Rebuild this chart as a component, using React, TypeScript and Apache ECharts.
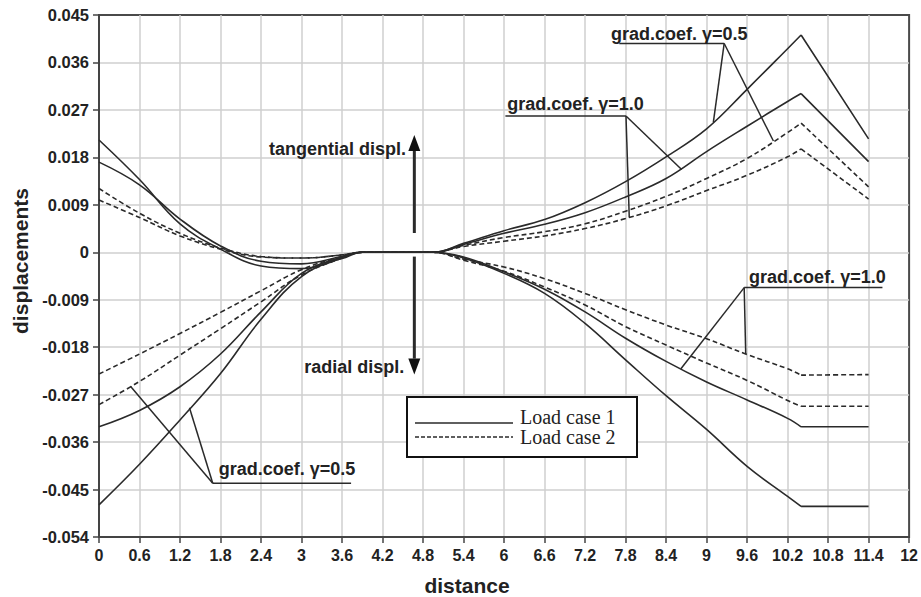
import React, { useEffect, useRef } from 'react';
import * as echarts from 'echarts';

// Distance along the section (shared by every curve)
const distance = [0, 0.6, 1.2, 1.8, 2.4, 3.0, 3.6, 3.9, 4.95, 5.4, 6.0, 6.6, 7.2, 7.8, 8.4, 9.0, 9.6, 10.2, 10.4, 11.4];

// Tangential displacements
const tanCase1G05 = [0.0213, 0.0138, 0.0054, 0.0006, -0.0026, -0.0031, -0.0012, 0, 0, 0.0017, 0.0041, 0.0062, 0.0094, 0.0134, 0.0181, 0.0234, 0.0309, 0.0386, 0.0412, 0.0215];
const tanCase1G10 = [0.0171, 0.0128, 0.0063, 0.0012, -0.0017, -0.0022, -0.0008, 0, 0, 0.0015, 0.0036, 0.0053, 0.0075, 0.0105, 0.0140, 0.0191, 0.0239, 0.0286, 0.0301, 0.0172];
const tanCase2G05 = [0.0121, 0.0074, 0.0036, 0.0008, -0.0008, -0.0011, -0.0005, 0, 0, 0.0013, 0.0028, 0.0039, 0.0054, 0.0078, 0.0106, 0.0140, 0.0178, 0.0227, 0.0245, 0.0124];
const tanCase2G10 = [0.0099, 0.0066, 0.0031, 0.0006, -0.0009, -0.0011, -0.0005, 0, 0, 0.0011, 0.0021, 0.0031, 0.0045, 0.0064, 0.0088, 0.0117, 0.0146, 0.0181, 0.0196, 0.0101];

// Radial displacements
const radCase1G05 = [-0.0479, -0.0402, -0.0318, -0.0230, -0.0127, -0.0046, -0.0010, 0, 0, -0.0011, -0.0040, -0.0078, -0.0135, -0.0204, -0.0272, -0.0336, -0.0406, -0.0463, -0.0482, -0.0482];
const radCase1G10 = [-0.0331, -0.0300, -0.0255, -0.0193, -0.0113, -0.0040, -0.0009, 0, 0, -0.0009, -0.0037, -0.0070, -0.0113, -0.0163, -0.0207, -0.0246, -0.0280, -0.0315, -0.0331, -0.0331];
const radCase2G05 = [-0.0289, -0.0245, -0.0195, -0.0145, -0.0094, -0.0043, -0.0011, 0, 0, -0.0015, -0.0036, -0.0066, -0.0100, -0.0141, -0.0176, -0.0210, -0.0243, -0.0281, -0.0292, -0.0292];
const radCase2G10 = [-0.0231, -0.0193, -0.0154, -0.0114, -0.0073, -0.0033, -0.0008, 0, 0, -0.0013, -0.0028, -0.0050, -0.0078, -0.0109, -0.0138, -0.0164, -0.0194, -0.0221, -0.0233, -0.0232];

const loadCases = ['Load case 1', 'Load case 2'];

// Axis ranges
const xMin = 0;
const xMax = 12;
const xStep = 0.6;
const yMin = -0.054;
const yMax = 0.045;
const yStep = 0.009;

// Index where the curves turn sharply (end of loaded zone)
const kneeIndex = distance.indexOf(10.4);

const INK = '#2a2a2a';
const SANS = '"Liberation Sans", Arial, sans-serif';
const SERIF = '"Liberation Serif", "Times New Roman", serif';

// Smooth part up to the knee, then a straight piece after it
function buildLine(values: number[]) {
  const pts: any[] = [];
  for (let i = 0; i <= kneeIndex; i++) pts.push([distance[i], values[i]]);
  pts.push([distance[kneeIndex], null]);
  for (let i = kneeIndex; i < distance.length; i++) pts.push([distance[i], values[i]]);
  return pts;
}

const curves = [
  { name: loadCases[0], values: tanCase1G05, dashed: false },
  { name: loadCases[0], values: tanCase1G10, dashed: false },
  { name: loadCases[1], values: tanCase2G05, dashed: true },
  { name: loadCases[1], values: tanCase2G10, dashed: true },
  { name: loadCases[0], values: radCase1G05, dashed: false },
  { name: loadCases[0], values: radCase1G10, dashed: false },
  { name: loadCases[1], values: radCase2G05, dashed: true },
  { name: loadCases[1], values: radCase2G10, dashed: true },
];

// Callouts: label anchor (left, baseline), underline start, elbow, pointed curve points
const callouts = [
  { text: 'grad.coef. \u03b3=0.5', at: [7.583, 0.04026], from: [7.707, 0.0396], elbow: [9.261, 0.0396], to: [[9.10, 0.02465], [9.99, 0.0211]] },
  { text: 'grad.coef. \u03b3=1.0', at: [6.048, 0.02698], from: [6.02, 0.02584], elbow: [7.806, 0.02584], to: [[7.855, 0.0066], [8.63, 0.0157]] },
  { text: 'grad.coef. \u03b3=1.0', at: [9.63, -0.00588], from: [11.605, -0.0067], elbow: [9.557, -0.0067], to: [[8.62, -0.0221], [9.58, -0.0193]] },
  { text: 'grad.coef. \u03b3=0.5', at: [1.774, -0.04235], from: [3.734, -0.0438], elbow: [1.685, -0.0438], to: [[0.466, -0.0254], [1.34, -0.0295]] },
];

// Direction arrows with their labels (label anchor = right end, baseline)
const arrows = [
  { text: 'tangential displ.', from: [4.671, 0.00365], to: [4.671, 0.02224], at: [4.548, 0.01845] },
  { text: 'radial displ.', from: [4.671, -0.00082], to: [4.671, -0.0232], at: [4.523, -0.02295] },
];

const fmtX = (v: number) => String(Number(v.toFixed(1)));
const fmtY = (v: number) => String(Number(v.toFixed(3)));

const option: any = {
  animation: false,
  backgroundColor: '#ffffff',
  grid: {
    left: 99,
    right: 11,
    top: 15,
    bottom: 60,
    show: true,
    borderColor: '#4a4a4a',
    borderWidth: 2,
    backgroundColor: 'transparent',
  },
  xAxis: {
    type: 'value',
    min: xMin,
    max: xMax,
    interval: xStep,
    axisLine: { show: true, onZero: false, lineStyle: { color: '#444', width: 2 } },
    axisTick: { show: true, length: 6, lineStyle: { color: '#444', width: 1.5 } },
    axisLabel: {
      margin: 10,
      color: '#222',
      fontFamily: SANS,
      fontWeight: 'bold',
      fontSize: 16,
      formatter: fmtX,
    },
    splitLine: { show: true, showMinLine: false, showMaxLine: false, lineStyle: { color: '#cfcfcf', width: 1.5 } },
  },
  yAxis: {
    type: 'value',
    min: yMin,
    max: yMax,
    interval: yStep,
    axisLine: { show: true, onZero: false, lineStyle: { color: '#444', width: 2 } },
    axisTick: { show: true, length: 6, lineStyle: { color: '#444', width: 1.5 } },
    axisLabel: {
      margin: 10,
      color: '#222',
      fontFamily: SANS,
      fontWeight: 'bold',
      fontSize: 16.5,
      formatter: fmtY,
    },
    splitLine: { show: true, showMinLine: false, showMaxLine: false, lineStyle: { color: '#cfcfcf', width: 1.5 } },
  },
  series: curves.map((c) => ({
    type: 'line',
    name: c.name,
    data: buildLine(c.values),
    smooth: 0.4,
    connectNulls: false,
    showSymbol: false,
    symbol: 'none',
    silent: true,
    z: 3,
    lineStyle: { color: INK, width: 1.6, type: c.dashed ? [5, 3] : 'solid' },
  })),
};

function buildGraphics(chart: any) {
  const px = (p: number[]) => chart.convertToPixel({ gridIndex: 0 }, p) as number[];
  const els: any[] = [];
  const line = (a: number[], b: number[], w = 1.5) => ({
    type: 'line',
    z: 50,
    silent: true,
    shape: { x1: a[0], y1: a[1], x2: b[0], y2: b[1] },
    style: { stroke: INK, lineWidth: w },
  });
  const label = (text: string, p: number[], align: string, size: number, family: string, weight: string) => ({
    type: 'text',
    z: 55,
    silent: true,
    x: p[0],
    y: p[1] - 0.35 * size,
    style: {
      text,
      fill: '#222',
      fontSize: size,
      fontFamily: family,
      fontWeight: weight,
      align,
      verticalAlign: 'middle',
      textAlign: align,
      textVerticalAlign: 'middle',
    },
  });

  callouts.forEach((c) => {
    const e = px(c.elbow);
    els.push(line(px(c.from), e));
    c.to.forEach((t) => els.push(line(e, px(t))));
    els.push(label(c.text, px(c.at), 'left', 18, SANS, 'bold'));
  });

  arrows.forEach((a) => {
    const p0 = px(a.from);
    const p1 = px(a.to);
    const dx = p1[0] - p0[0];
    const dy = p1[1] - p0[1];
    const len = Math.hypot(dx, dy);
    const ux = dx / len;
    const uy = dy / len;
    const headLen = 16;
    const half = 6;
    const bx = p1[0] - ux * headLen;
    const by = p1[1] - uy * headLen;
    els.push(line(p0, [bx, by], 3));
    els.push({
      type: 'polygon',
      z: 50,
      silent: true,
      shape: { points: [p1, [bx - uy * half, by + ux * half], [bx + uy * half, by - ux * half]] },
      style: { fill: '#111' },
    });
    els.push(label(a.text, px(a.at), 'right', 18, SANS, 'bold'));
  });

  // Axis titles
  els.push({
    type: 'text',
    z: 55,
    silent: true,
    x: 20,
    y: 261,
    rotation: Math.PI / 2,
    style: { text: 'displacements', fill: '#222', fontSize: 21, fontFamily: SANS, fontWeight: 'bold', align: 'center', verticalAlign: 'middle', textAlign: 'center', textVerticalAlign: 'middle' },
  });
  els.push({
    type: 'text',
    z: 55,
    silent: true,
    x: 467,
    y: 585,
    style: { text: 'distance', fill: '#222', fontSize: 21, fontFamily: SANS, fontWeight: 'bold', align: 'center', verticalAlign: 'middle', textAlign: 'center', textVerticalAlign: 'middle' },
  });

  // Key box
  const box = { x: 407, y: 397, w: 230, h: 60 };
  els.push({
    type: 'rect',
    z: 60,
    silent: true,
    shape: { x: box.x, y: box.y, width: box.w, height: box.h },
    style: { fill: '#fff', stroke: '#111', lineWidth: 2 },
  });
  loadCases.forEach((name, i) => {
    const ly = box.y + 26 + i * 14;
    els.push({
      type: 'line',
      z: 61,
      silent: true,
      shape: { x1: box.x + 8, y1: ly, x2: box.x + 106, y2: ly },
      style: { stroke: INK, lineWidth: 1.5, lineDash: i === 1 ? [4, 2] : null },
    });
    els.push({
      type: 'text',
      z: 62,
      silent: true,
      x: box.x + 113,
      y: box.y + 19.5 + i * 20.5,
      style: { text: name, fill: '#222', fontSize: 20, lineHeight: 19, fontFamily: SERIF, align: 'left', verticalAlign: 'middle', textAlign: 'left', textVerticalAlign: 'middle' },
    });
  });

  return els;
}

export default function App() {
  const ref = useRef<HTMLDivElement>(null);
  useEffect(() => {
    const el = ref.current;
    if (!el) return;
    const chart = echarts.init(el, undefined, { renderer: 'svg' });
    chart.setOption(option);
    chart.setOption({ graphic: buildGraphics(chart) });
    return () => chart.dispose();
  }, []);
  return (
    <div
      ref={ref}
      style={{ position: 'fixed', left: 0, top: 0, width: 921, height: 597, background: '#fff' }}
    />
  );
}
